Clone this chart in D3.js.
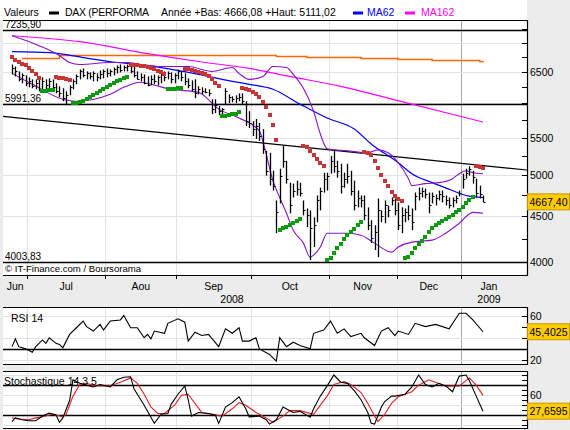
<!DOCTYPE html>
<html>
<head>
<meta charset="utf-8">
<script src="https://cdn.jsdelivr.net/npm/d3@7"></script>
<style>
  html, body { margin: 0; padding: 0; background: #ececec; }
  svg { display: block; font-family: "Liberation Sans", Arial, sans-serif; }
</style>
</head>
<body>
<script>
// ---- data (Jun 2008 - Jan 2009, daily bars) ----
const monthNames = ['Jun', 'Jul', 'Aou', 'Sep', 'Oct', 'Nov', 'Dec', 'Jan'];
const monthStart = [5, 28, 49, 71, 94, 114, 133]; // bar index of 1st session of Jul..Jan
const yearNames = ['2008', '2009'];

const high = [6626,6593,6511,6478,6445,6412,6380,6380,6428,6412,
  6380,6396,6380,6316,6268,6236,6188,6284,6380,6461,
  6543,6560,6511,6494,6511,6478,6527,6543,6560,6543,
  6576,6610,6626,6610,6626,6626,6610,6511,6478,6461,
  6428,6445,6461,6445,6478,6511,6511,6494,6478,6543,
  6511,6478,6396,6364,6380,6268,6252,6236,6220,6065,
  6065,5959,5928,6236,6141,6110,6126,6157,6157,6034,
  5883,5736,5766,5707,5621,5317,5290,5053,4684,5079,
  5384,5183,4902,4890,4927,4902,4684,4590,4567,4487,
  4744,4840,5028,5028,5249,5317,5183,5144,5028,5144,
  5053,4927,4804,4744,4744,4602,4453,4397,4708,4567,
  4684,4625,4720,4708,4661,4602,4590,4625,4590,4780,
  4840,4840,4828,4780,4780,4756,4804,4804,4744,4720,
  4720,4744,4804,5015,5079,5111.02,5053,4952,4865,4744];
const low = [6461,6428,6348,6316,6268,6252,6236,6220,6188,6220,
  6220,6236,6188,6157,6095,6034,5989,6126,6220,6300,
  6380,6412,6380,6380,6348,6348,6380,6396,6412,6428,
  6445,6478,6494,6511,6511,6478,6412,6380,6348,6300,
  6268,6284,6300,6284,6316,6348,6380,6316,6316,6380,
  6348,6284,6236,6188,6080,6141,6141,6157,6110,5839,
  5853,5824,5810,5989,6004,6019,6004,6034,5989,5664,
  5635,5522,5481,5453,5276,4990,4865,4804,4309,4649,
  5092,4890,4533,4720,4744,4732,4510,4375,4024,4159,
  4431,4567,4780,4804,5015,5028,4964,4768,4840,4890,
  4744,4567,4602,4602,4453,4342,4201,4127,4054,4431,
  4419,4487,4625,4510,4342,4309,4431,4453,4342,4567,
  4684,4720,4708,4533,4649,4625,4684,4661,4625,4590,
  4602,4649,4732,4828,4952,4990,4890,4720,4708,4666.08];
const close = [6560,6511,6380,6445,6316,6348,6268,6316,6220,6348,
  6284,6348,6252,6188,6157,6080,6126,6252,6348,6428,
  6511,6445,6478,6428,6478,6412,6461,6511,6478,6511,
  6543,6576,6527,6576,6593,6511,6445,6380,6412,6316,
  6284,6380,6348,6412,6445,6412,6478,6380,6445,6511,
  6412,6348,6284,6220,6157,6220,6188,6173,6157,5913,
  5974,5883,5913,6188,6095,6065,6080,6095,6034,5736,
  5707,5621,5664,5522,5344,5053,4952,4865,4544,4990,
  5183,4952,4625,4804,4828,4780,4567,4510,4364,4397,
  4684,4804,4952,4990,5183,5118,5053,4865,4952,4990,
  4804,4625,4708,4684,4510,4397,4254,4320,4567,4499,
  4625,4567,4684,4567,4397,4510,4544,4510,4431,4732,
  4780,4804,4756,4625,4732,4708,4756,4732,4684,4625,
  4684,4708,4780,4952,5028,5079,4977,4780,4756,4667.40];
// parabolic SAR, one value per session
const sar = [6762,6711,6677,6643,6610,6560,6511,6461,6396,
  6188,6188,6204,6204,
  6412,6396,6396,6380,6364,
  6004,6004,6019,6034,6065,6095,6126,6157,6188,6220,6252,6284,6316,6348,6364,6396,6412,
  6626,6610,6610,6593,6593,6576,6560,6543,6511,6494,6461,
  6220,6220,6220,6236,6236,
  6543,6543,6527,6511,6494,6478,6461,6428,6380,6316,6268,
  5810,5810,5824,5839,5839,5868,
  6236,6220,6204,6173,6141,6095,6019,5943,5824,5678,5467,
  4342,4364,4375,4397,4419,4442,4464,
  5384,5371,5317,5263,5210,5157,5118,
  4024,4044,4096,4148,4190,4244,4287,4320,4353,4397,4431,
  5303,5290,5263,5183,5092,5002,4927,4865,4792,4732,4696,4672,
  4044,4054,4096,4148,4190,4222,4265,4320,4364,4397,4419,4442,4464,4487,4510,4544,4567,4602,4649,4684,4720,
  5118,5105,5092];

// overlays as [session index, value]
const ma62 = [[0,6847],[11,6830],[21,6745],[31,6660],[40,6610],[47,6543],[55,6461],[65,6348],[70,6300],
  [77,6220],[85,5989],[93,5780],[101,5621],[106,5411],[114,5157],[118,5015],[124,4902],[130,4804],[134,4744],[139,4720]];
const ma162 = [[0,7131],[20,7024],[40,6813],[55,6677],[70,6560],[82,6428],[97,6268],[118,5989],[139,5722]];
const longAvg = [[3,6728],[14,6779],[78,6762],[87,6745],[103,6728],[114,6711],[124,6694],[138,6677],[139,6660]];
const bbUpper = [[0,7131],[8,6953],[14,6779],[17,6660],[20,6626],[29,6660],[34,6660],[38,6626],[44,6593],[52,6593],
  [59,6511],[65,6576],[67,6478],[70,6380],[74,6428],[77,6593],[81,6576],[83,6461],[86,6236],[89,5883],[91,5550],
  [93,5344],[99,5317],[105,5290],[108,5330],[111,5290],[114,5157],[117,4952],[118,4865],[122,4890],[126,4902],
  [130,4952],[132,5015],[134,5053],[136,5028],[139,5015]];
const bbLower = [[0,6478],[6,6300],[15,6065],[19,6034],[29,6141],[33,6252],[38,6332],[41,6300],[47,6220],[55,6173],
  [61,5913],[67,5780],[73,5593],[75,5276],[77,4927],[79,4720],[81,4533],[83,4342],[86,4201],[88,4054],[89,4075],
  [91,4159],[93,4309],[99,4309],[103,4287],[107,4201],[112,4106],[114,4159],[118,4212],[124,4233],[128,4309],
  [132,4419],[136,4544],[139,4533]];
const trendLine = [[0,5790],[139,5121]];
const refLevels = [7235.90, 5991.36, 4003.83];
const priceTicks = d3.range(4000, 7251, 250);
const priceLabels = [4000, 4500, 5000, 5500, 6500];
const priceGrid = [4500, 5000, 5500, 6000, 6500, 7000];

const rsi = [[0,32],[1,39],[2,32],[4,30],[6,27],[7,32],[9,38],[10,35],[11,40],[13,35],[14,34],[15,31],[17,43],
  [19,49],[21,55],[22,50],[24,46],[26,52],[27,47],[29,55],[32,56],[33,60],[35,49],[37,49],[39,40],[40,43],
  [41,39],[42,46],[45,44],[46,53],[49,57],[51,54],[52,37],[54,45],[56,42],[58,43],[61,32],[63,48],[65,44],
  [67,49],[68,37],[70,37],[72,40],[73,30],[76,25],[78,19],[79,40],[81,32],[83,36],[85,33],[88,30],[89,44],
  [92,47],[94,55],[96,44],[98,48],[100,41],[103,44],[104,40],[107,33],[109,46],[111,49],[113,42],[114,46],
  [117,43],[119,53],[122,50],[125,52],[129,48],[132,62],[134,62],[136,56],[139,45.4025]];
const stochK = [[0,6.9],[1,14.2],[3,10.5],[5,8.4],[7,8.4],[9,17.8],[11,23.6],[13,20],[14,5.5],[15,14.2],[17,49],
  [18,90.5],[20,83.3],[22,79.6],[24,76],[26,81],[29,76],[31,90.5],[33,95.6],[35,96.4],[36,72.4],[38,50.5],
  [39,39.6],[42,3.3],[44,21.5],[46,23],[47,41.8],[49,61.5],[51,78.2],[52,50.5],[53,17.8],[55,25],[58,22.9],
  [60,20],[61,3.3],[63,36],[65,44.7],[67,56.4],[69,32.4],[70,16.4],[73,17.8],[75,10.5],[76,1.8],[78,10.5],
  [80,36],[82,28.7],[83,25],[85,27.3],[88,15.6],[89,32.4],[91,57.8],[93,78.2],[95,100],[97,85.5],[99,83.3],
  [101,68.7],[103,50.5],[105,25],[106,3.3],[107,1.8],[109,36],[110,47],[112,57.8],[113,57.8],[116,61.5],
  [118,76],[120,100],[122,81],[124,76],[126,83.3],[128,78.2],[130,66.5],[132,97.8],[134,100],[135,88.4],
  [137,57.8],[139,27.6595]];
const stochD = [[0,14.2],[2,12],[5,10.5],[7,14.2],[9,16.4],[12,21.5],[15,16.4],[16,21.5],[18,57.8],[20,81],
  [22,83.3],[24,79.6],[26,78.2],[29,78.2],[32,85.5],[35,94.2],[37,83.3],[39,61.5],[41,36],[43,23],[45,23],
  [48,39.6],[50,59.3],[52,61.5],[54,43.3],[56,25],[59,21.5],[62,17.8],[65,32.4],[67,44.7],[69,39.6],[72,25],
  [75,14.2],[77,5.5],[80,17.8],[82,28.7],[85,28.7],[89,21.5],[91,39.6],[93,57.8],[95,81],[98,87],[100,81],
  [103,65],[105,43.3],[107,17.8],[108,6.9],[110,21.5],[112,43.3],[114,56.4],[118,66.5],[120,79.6],[123,90.5],
  [125,85.5],[128,77.5],[132,78.2],[135,94.2],[137,79.6],[139,59.3]];

// ---- layout ----
const W = 570, H = 430;
const left = 3, right = 527;
const main = { top: 20, bottom: 275 };
const rsiBox = { top: 307, bottom: 364 };
const stoBox = { top: 371, bottom: 428 };
const fmt = v => d3.format('.2f')(v).replace('.', ',');

const svg = d3.select('body').append('svg').attr('width', W).attr('height', H);
svg.append('rect').attr('width', W).attr('height', H).attr('fill', '#ececec');

const x = d3.scaleLinear().domain([0, 139]).range([12, 483]);
const yP = d3.scaleLog().domain([3873, 7423]).range([main.bottom, main.top]);
const yR = d3.scaleLinear().domain([20, 60]).range([360, 315.5]);
const yS = d3.scaleLinear().domain([0, 100]).range([425, 375]);

const crisp = v => Math.round(v) + 0.5;
const bounds = [left].concat(monthStart.map(i => x(i - 0.5)), [right]);
const yearX = x(monthStart[monthStart.length - 1] - 0.5);

// header
const head = svg.append('g').attr('font-size', 10.5);
head.append('rect').attr('x', 0).attr('y', 0).attr('width', right).attr('height', main.top).attr('fill', '#fff');
head.append('text').attr('x', 4).attr('y', 16).text('Valeurs');
const legend = [
  { x: 49, color: '#000', label: 'DAX (PERFORMA', tx: 65, tc: '#000' },
  { x: 353, color: '#0000ff', label: 'MA62', tx: 367, tc: '#0000ff' },
  { x: 405, color: '#ff00ff', label: 'MA162', tx: 421, tc: '#ff00ff' }
];
legend.forEach(d => {
  head.append('rect').attr('x', d.x).attr('y', 11.5).attr('width', 10).attr('height', 3).attr('fill', d.color);
  head.append('text').attr('x', d.tx).attr('y', 16).attr('fill', d.tc).text(d.label);
});
head.select('text:nth-of-type(2)').attr('textLength', 84);
head.append('text').attr('x', 161).attr('y', 16)
  .text('Année +Bas: ' + fmt(d3.min(low.slice(monthStart[6]))) + ' +Haut: ' + fmt(d3.max(high.slice(monthStart[6]))));

// panel frame helper
function panel(box) {
  const g = svg.append('g');
  g.append('rect').attr('x', left).attr('y', box.top).attr('width', right - left).attr('height', box.bottom - box.top)
    .attr('fill', '#fff');
  g.selectAll('line.vg').data(bounds.slice(1, -1)).join('line')
    .attr('x1', d => crisp(d)).attr('x2', d => crisp(d))
    .attr('y1', box.top).attr('y2', box.bottom)
    .attr('stroke', d => d === yearX ? '#a8a8a8' : '#e2e2e2');
  return g;
}
function frame(box) {
  const p = `M${left},${box.top + 0.5}H${right + 0.5}V${box.bottom + 0.5}H${left}`;
  svg.append('path').attr('d', p).attr('fill', 'none').attr('stroke', '#000').attr('stroke-width', 1.2);
}
function rightTicks(box, scale, ticks, labels, fmtL) {
  const g = svg.append('g').attr('font-size', 10.5);
  g.selectAll('line').data(ticks).join('line')
    .attr('x1', right - 5).attr('x2', right).attr('y1', d => crisp(scale(d))).attr('y2', d => crisp(scale(d)))
    .attr('stroke', '#000');
  g.selectAll('text').data(labels).join('text')
    .attr('x', right + 3).attr('y', d => scale(d) + 4).text(fmtL);
}
function valueBox(yv, label) {
  const g = svg.append('g');
  g.append('rect').attr('x', right + 0.5).attr('y', yv - 8).attr('width', W - right - 1).attr('height', 16)
    .attr('fill', '#ffcc00').attr('stroke', '#c89600');
  g.append('text').attr('x', (right + W) / 2).attr('y', yv + 4).attr('text-anchor', 'middle')
    .attr('font-size', 10.5).text(label);
}

// ---- main price panel ----
const pm = panel(main);
pm.selectAll('line.hg').data(priceGrid).join('line')
  .attr('x1', left).attr('x2', right).attr('y1', d => crisp(yP(d))).attr('y2', d => crisp(yP(d)))
  .attr('stroke', '#e2e2e2');

svg.append('clipPath').attr('id', 'clipMain').append('rect')
  .attr('x', left).attr('y', main.top).attr('width', right - left).attr('height', main.bottom - main.top);
const plot = svg.append('g').attr('clip-path', 'url(#clipMain)');

// reference levels
plot.selectAll('line.ref').data(refLevels).join('line')
  .attr('x1', left).attr('x2', right).attr('y1', d => crisp(yP(d))).attr('y2', d => crisp(yP(d)))
  .attr('stroke', '#000').attr('stroke-width', 1.5);
plot.selectAll('text.ref').data(refLevels).join('text')
  .attr('x', 5).attr('y', d => yP(d) - 2).attr('font-size', 10).text(fmt);

// trend line extended across the panel
{
  const [p0, p1] = trendLine;
  const sx = x(p0[0]), sy = yP(p0[1]), ex = x(p1[0]), ey = yP(p1[1]);
  const k = (ey - sy) / (ex - sx);
  plot.append('line').attr('x1', left).attr('y1', sy + k * (left - sx)).attr('x2', right).attr('y2', sy + k * (right - sx))
    .attr('stroke', '#000').attr('stroke-width', 1.2);
}

const lineP = d3.line().x(d => x(d[0])).y(d => yP(d[1]));
plot.append('path').attr('d', d3.line().curve(d3.curveStepAfter).x(d => x(d[0])).y(d => yP(d[1]))(longAvg))
  .attr('fill', 'none').attr('stroke', '#ff6600').attr('stroke-width', 1.5);
plot.append('path').attr('d', lineP.curve(d3.curveMonotoneX)(ma162)).attr('fill', 'none').attr('stroke', '#ff00ff').attr('stroke-width', 1.2);
plot.append('path').attr('d', lineP(ma62)).attr('fill', 'none').attr('stroke', '#0000ff').attr('stroke-width', 1.2);
[bbUpper, bbLower].forEach(b => plot.append('path').attr('d', lineP(b))
  .attr('fill', 'none').attr('stroke', '#8a10c8').attr('stroke-width', 1.1));

// OHLC bars (high-low with close tick)
const bars = plot.append('g').attr('stroke', '#000');
close.forEach((c, i) => {
  const cx = crisp(x(i));
  bars.append('line').attr('x1', cx).attr('x2', cx).attr('y1', yP(high[i])).attr('y2', yP(low[i])).attr('stroke-width', 1.3);
  bars.append('line').attr('x1', cx).attr('x2', cx + 2).attr('y1', crisp(yP(c))).attr('y2', crisp(yP(c)));
});

// SAR dots
plot.selectAll('rect.sar').data(sar).join('rect')
  .attr('x', (d, i) => Math.round(x(i)) - 2).attr('y', d => Math.round(yP(d)) - 2)
  .attr('width', 4).attr('height', 4)
  .attr('fill', (d, i) => d > close[i] ? '#c83434' : '#0a9a0a');

// credit
svg.append('text').attr('x', 5).attr('y', 272).attr('font-size', 9.6).text('© IT-Finance.com / Boursorama');
frame(main);
rightTicks(main, yP, priceTicks, priceLabels, d => d);
valueBox(yP(close[close.length - 1]), fmt(close[close.length - 1]));

// x axis
const xa = svg.append('g').attr('font-size', 10.5).attr('text-anchor', 'middle');
xa.selectAll('line').data(bounds.slice(1, -1)).join('line')
  .attr('x1', d => crisp(d)).attr('x2', d => crisp(d)).attr('y1', main.bottom).attr('y2', main.bottom + 4).attr('stroke', '#000');
xa.selectAll('text.m').data(monthNames).join('text')
  .attr('x', (d, i) => (bounds[i] + bounds[i + 1]) / 2 - (i === monthNames.length - 1 ? 5 : 0)).attr('y', 290).text(d => d);
xa.selectAll('text.y').data(yearNames).join('text')
  .attr('x', (d, i) => i === 0 ? (left + yearX) / 2 : (yearX + right) / 2 - 5).attr('y', 303).text(d => d);

// ---- RSI panel ----
const pr = panel(rsiBox);
pr.selectAll('line.hg').data([20, 40, 60]).join('line')
  .attr('x1', left).attr('x2', right).attr('y1', d => crisp(yR(d))).attr('y2', d => crisp(yR(d))).attr('stroke', '#e2e2e2');
pr.append('line').attr('x1', left).attr('x2', right).attr('y1', crisp(yR(30))).attr('y2', crisp(yR(30)))
  .attr('stroke', '#000').attr('stroke-width', 1.3);
pr.append('path').attr('d', d3.line().x(d => x(d[0])).y(d => yR(d[1]))(rsi))
  .attr('fill', 'none').attr('stroke', '#000').attr('stroke-width', 1.1);
pr.append('text').attr('x', 11).attr('y', 322).attr('font-size', 10.5).text('RSI 14');
frame(rsiBox);
rightTicks(rsiBox, yR, [20, 30, 40, 50, 60], [20, 60], d => d);
valueBox(yR(rsi[rsi.length - 1][1]), d3.format('.4f')(rsi[rsi.length - 1][1]).replace('.', ','));

// ---- Stochastic panel ----
const ps = panel(stoBox);
ps.selectAll('line.hg').data([0, 40, 60, 100]).join('line')
  .attr('x1', left).attr('x2', right).attr('y1', d => crisp(yS(d))).attr('y2', d => crisp(yS(d))).attr('stroke', '#e2e2e2');
ps.selectAll('line.lv').data([20, 80]).join('line')
  .attr('x1', left).attr('x2', right).attr('y1', d => crisp(yS(d))).attr('y2', d => crisp(yS(d)))
  .attr('stroke', '#000').attr('stroke-width', 1.3);
const lineS = d3.line().x(d => x(d[0])).y(d => yS(d[1]));
ps.append('path').attr('d', lineS(stochD)).attr('fill', 'none').attr('stroke', '#e02020').attr('stroke-width', 1.1);
ps.append('path').attr('d', lineS(stochK)).attr('fill', 'none').attr('stroke', '#000').attr('stroke-width', 1.1);
ps.append('text').attr('x', 4).attr('y', 385).attr('font-size', 10.5).text('Stochastique 14 3 5');
frame(stoBox);
rightTicks(stoBox, yS, d3.range(0, 101, 10), [60], d => d);
valueBox(yS(stochK[stochK.length - 1][1]), d3.format('.4f')(stochK[stochK.length - 1][1]).replace('.', ','));
</script>
</body>
</html>
